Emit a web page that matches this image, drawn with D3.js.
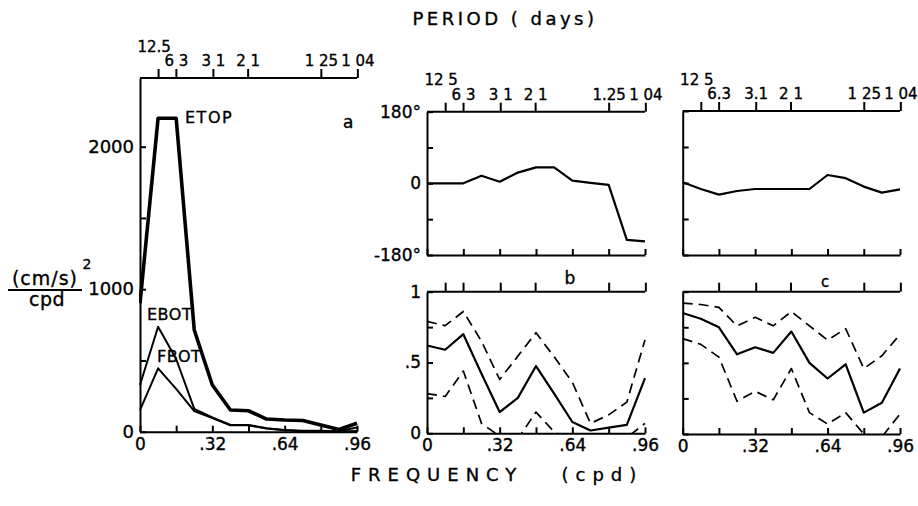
<!DOCTYPE html>
<html><head><meta charset="utf-8">
<script src="https://cdn.jsdelivr.net/npm/d3@7"></script>
<style>
body{margin:0;background:#fff;}
text{font-family:"DejaVu Sans",sans-serif;fill:#000;stroke:#000;stroke-width:0.35px;}
</style></head>
<body>
<svg id="c" width="918" height="506"></svg>
<script>
// ---------- DATA ----------
const freq = [0, .08, .16, .24, .32, .40, .48, .56, .64, .72, .80, .88, .96];
// panel a : spectra (cm/s)^2/cpd
const etop = [900, 2200, 2200, 714, 328, 152, 147, 89, 82, 79, 47, 15, 59];
const ebot = [328, 737, 510, 160, 101, 47, 47, 24, 12, 6, 6, 4, 30];
const fbot = [152, 445, 300, 145, 95, 45, 45, 22, 10, 4, 3, 2, 5];
// panel b : phase (deg) and coherence with confidence limits
const phaseB = [0, 0, 0, 19, 4, 27, 40, 40, 7, 1, -4, -142, -146];
const cohB   = [0.62, 0.59, 0.70, 0.42, 0.15, 0.25, 0.475, 0.28, 0.08, 0.02, 0.04, 0.06, 0.39];
const cohBhi = [0.79, 0.76, 0.86, 0.65, 0.38, 0.545, 0.71, 0.54, 0.36, 0.07, 0.13, 0.22, 0.66];
const cohBlo = [0.28, 0.26, 0.44, 0.07, -0.02, -0.04, 0.15, 0.01, -0.06, -0.1, -0.1, -0.03, 0.07];
// panel c
const phaseC = [2, -15, -29, -20, -15, -15, -15, -15, 20, 12, -9, -24, -16];
const cohC   = [0.85, 0.81, 0.75, 0.56, 0.61, 0.57, 0.72, 0.50, 0.39, 0.49, 0.15, 0.22, 0.46];
const cohChi = [0.92, 0.91, 0.89, 0.76, 0.82, 0.76, 0.86, 0.76, 0.66, 0.74, 0.46, 0.55, 0.70];
const cohClo = [0.67, 0.63, 0.54, 0.23, 0.30, 0.24, 0.46, 0.15, 0.07, 0.15, 0.0, -0.02, 0.14];
// axis ticks / labels
const freqTicks = [0, .16, .32, .48, .64, .80, .96];
const freqLabels = ["0", "", ".32", "", ".64", "", ".96"];
const periods = [12.5, 6.3, 3.1, 2.1, 1.25, 1.04];
const periodLabelsA = ["12.5", "6 3", "3 1", "2 1", "1 25", "1 04"];
const periodLabelsB = ["12 5", "6 3", "3 1", "2 1", "1.25", "1 04"];
const periodLabelsC = ["12 5", "6.3", "3.1", "2 1", "1 25", "1 04"];
const specTicks = [0, 500, 1000, 1500, 2000];
const specLabels = ["0", "", "1000", "", "2000"];
const phaseTicks = [-180, -90, 0, 90, 180];
const phaseLabels = ["-180°", "", "0", "", "180°"];
const cohTicks = [0, .25, .5, .75, 1];
const cohLabels = ["0", "", ".5", "", "1"];

// ---------- DRAW ----------
const svg = d3.select("#c");
const defs = svg.append("defs");
let clipN = 0;

function fmt(ticks, labels){ return d => labels[ticks.indexOf(d)]; }

function styleAxis(g, fs){
  g.select(".domain").attr("stroke", "#000").attr("stroke-width", 2);
  g.selectAll(".tick line").attr("stroke", "#000").attr("stroke-width", 2);
  g.selectAll(".tick text").attr("font-size", fs).attr("fill", "#000")
    .style("font-family", '"DejaVu Sans",sans-serif');
  g.attr("font-family", null).attr("font-size", null);
}

function clip(x0, y0, x1, y1){
  const id = "clip" + (clipN++);
  defs.append("clipPath").attr("id", id).append("rect")
    .attr("x", x0).attr("y", y0).attr("width", x1 - x0).attr("height", y1 - y0);
  return "url(#" + id + ")";
}

function drawLine(x, y, vals, width, dash, clipUrl){
  const line = d3.line().x((d, i) => x(freq[i])).y(d => y(d));
  svg.append("path").datum(vals).attr("d", line)
    .attr("fill", "none").attr("stroke", "#000").attr("stroke-width", width)
    .attr("stroke-linejoin", "round")
    .attr("stroke-dasharray", dash || null)
    .attr("clip-path", clipUrl || null);
}

function topPeriodAxis(x, yPix, labels, showLabels, skip){
  const vals = periods.map(p => 1 / p).filter((d, i) => !(skip || []).includes(i));
  const g = svg.append("g").attr("transform", `translate(0,${yPix})`)
    .call(d3.axisTop(x).tickValues(vals).tickSizeInner(9).tickSizeOuter(0).tickPadding(3)
      .tickFormat(showLabels ? (d => labels[periods.findIndex(p => Math.abs(1 / p - d) < 1e-9)]) : () => ""));
  styleAxis(g, "15px");
  g.select(".domain").remove();
  // the 12.5 label sits higher
  g.selectAll(".tick text").filter(d => Math.abs(d - 0.08) < 1e-9).attr("dy", "-0.95em").attr("dx", "-0.3em");
  return g;
}

function bottomFreqAxis(x, yPix, showLabels){
  const g = svg.append("g").attr("transform", `translate(0,${yPix})`)
    .call(d3.axisBottom(x).tickValues(freqTicks).tickSizeInner(-6).tickSizeOuter(0).tickPadding(6)
      .tickFormat(showLabels ? fmt(freqTicks, freqLabels) : () => ""));
  styleAxis(g, "17px");
  return g;
}

function leftAxis(y, xPix, ticks, labels, fs){
  const g = svg.append("g").attr("transform", `translate(${xPix},0)`)
    .call(d3.axisLeft(y).tickValues(ticks).tickSizeInner(-6).tickSizeOuter(0).tickPadding(6)
      .tickFormat(fmt(ticks, labels)));
  styleAxis(g, fs);
  return g;
}

function topLine(x, yPix){
  svg.append("line").attr("x1", x.range()[0]).attr("x2", x.range()[1])
    .attr("y1", yPix).attr("y2", yPix).attr("stroke", "#000").attr("stroke-width", 2);
}

// ----- panel a -----
const xa = d3.scaleLinear().domain([0, .96]).range([140, 357]);
const ya = d3.scaleLinear().domain([0, 2482]).range([431.7, 78]);
const clipA = clip(139, 76, 360, 432);
drawLine(xa, ya, fbot, 2, null, clipA);
drawLine(xa, ya, ebot, 2, null, clipA);
drawLine(xa, ya, etop, 3.6, null, clipA);
topLine(xa, 78);
topPeriodAxis(xa, 78, periodLabelsA, true);
bottomFreqAxis(xa, 431.7, true);
leftAxis(ya, 140, specTicks, specLabels, "18px");

svg.append("text").attr("x", 185).attr("y", 123).attr("font-size", "16px").attr("letter-spacing", "1.5px").text("ETOP");
svg.append("text").attr("x", 147).attr("y", 320).attr("font-size", "16px").attr("letter-spacing", "0.5px").text("EBOT");
svg.append("text").attr("x", 157).attr("y", 362).attr("font-size", "16px").attr("letter-spacing", "0.5px").text("FBOT");
svg.append("text").attr("x", 343).attr("y", 128).attr("font-size", "17px").text("a");

// y-label fraction
svg.append("text").attr("x", 45).attr("y", 285).attr("text-anchor", "middle").attr("font-size", "19px").attr("letter-spacing", "1px").text("(cm/s)");
svg.append("text").attr("x", 87).attr("y", 269).attr("text-anchor", "middle").attr("font-size", "14px").text("2");
svg.append("line").attr("x1", 8).attr("x2", 82).attr("y1", 290).attr("y2", 290).attr("stroke", "#000").attr("stroke-width", 1.8);
svg.append("text").attr("x", 47).attr("y", 306).attr("text-anchor", "middle").attr("font-size", "19px").attr("letter-spacing", "0.5px").text("cpd");

// ----- panel b -----
const xb = d3.scaleLinear().domain([0, .96]).range([427, 645]);
const ybp = d3.scaleLinear().domain([-180, 180]).range([255, 111.7]);
const ybc = d3.scaleLinear().domain([0, 1]).range([433.3, 291.7]);
drawLine(xb, ybp, phaseB, 2.2, null, clip(426, 110, 648, 256));
const clipB = clip(426, 290, 648, 433.3);
drawLine(xb, ybc, cohBhi, 1.7, "10,6", clipB);
drawLine(xb, ybc, cohBlo, 1.7, "10,6", clipB);
drawLine(xb, ybc, cohB, 2.2, null, clipB);
topLine(xb, 111.7);
topPeriodAxis(xb, 111.7, periodLabelsB, true);
bottomFreqAxis(xb, 255, false);
leftAxis(ybp, 427, phaseTicks, phaseLabels, "17px");
topLine(xb, 291.7);
topPeriodAxis(xb, 291.7, periodLabelsB, false);
bottomFreqAxis(xb, 433.3, true);
leftAxis(ybc, 427, cohTicks, cohLabels, "17px");
svg.append("text").attr("x", 570).attr("y", 284).attr("text-anchor", "middle").attr("font-size", "17px").text("b");

// ----- panel c -----
const xc = d3.scaleLinear().domain([0, .96]).range([682.7, 900]);
const ycp = d3.scaleLinear().domain([-180, 180]).range([255, 111]);
const ycc = d3.scaleLinear().domain([0, 1]).range([434, 291.7]);
drawLine(xc, ycp, phaseC, 2.2, null, clip(681, 110, 903, 256));
const clipC = clip(681, 290, 903, 434);
drawLine(xc, ycc, cohChi, 1.7, "10,6", clipC);
drawLine(xc, ycc, cohClo, 1.7, "10,6", clipC);
drawLine(xc, ycc, cohC, 2.2, null, clipC);
topLine(xc, 111);
topPeriodAxis(xc, 111, periodLabelsC, true);
bottomFreqAxis(xc, 255, false);
leftAxis(ycp, 682.7, phaseTicks, phaseLabels.map(() => ""), "17px");
topLine(xc, 291.7);
topPeriodAxis(xc, 291.7, periodLabelsC, false, [0]);
bottomFreqAxis(xc, 434, true);
leftAxis(ycc, 682.7, cohTicks, cohLabels.map(() => ""), "17px");
svg.append("text").attr("x", 825).attr("y", 287).attr("text-anchor", "middle").attr("font-size", "15px").text("c");

// ----- titles -----
svg.append("text").attr("x", 505).attr("y", 25).attr("text-anchor", "middle")
  .attr("font-size", "18px").attr("letter-spacing", "3.5px").text("PERIOD ( days)");
svg.append("text").attr("x", 497).attr("y", 481).attr("text-anchor", "middle")
  .attr("font-size", "18px").attr("letter-spacing", "7px").attr("xml:space", "preserve").text("FREQUENCY   (cpd)");
</script>
</body></html>
